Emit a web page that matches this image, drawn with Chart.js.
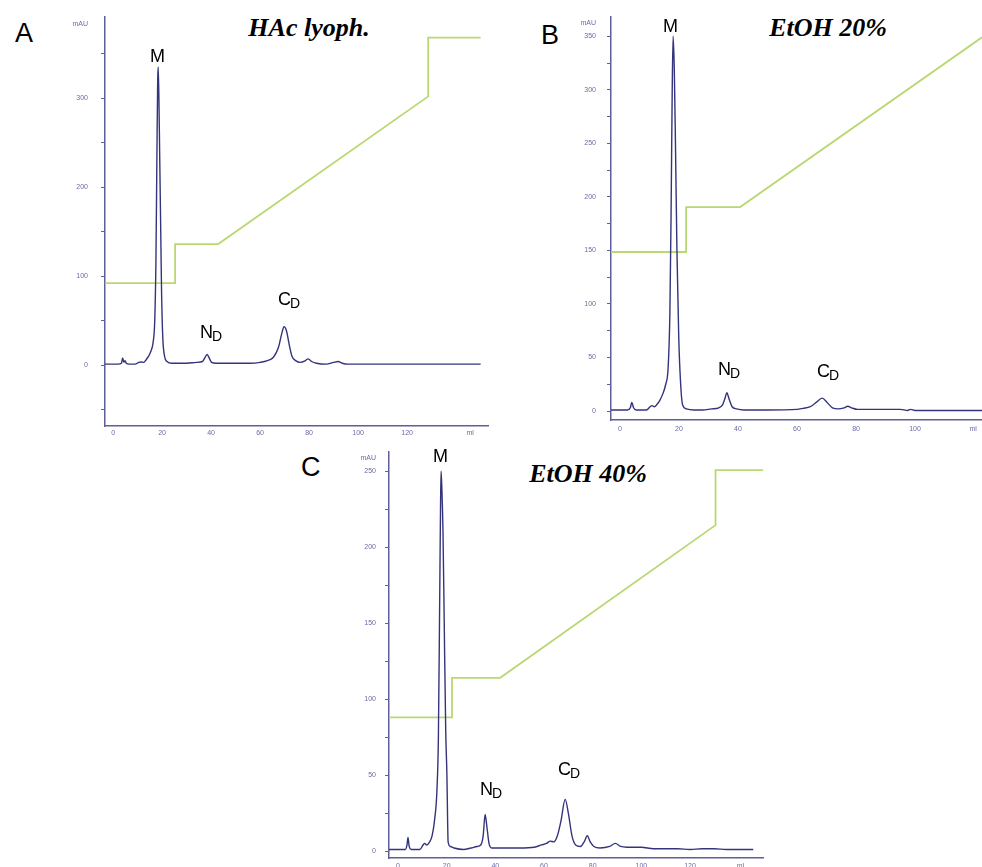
<!DOCTYPE html>
<html>
<head>
<meta charset="utf-8">
<script src="https://cdn.jsdelivr.net/npm/chart.js@4.4.0/dist/chart.umd.min.js"></script>
<style>
  body { margin: 0; background: #fff; width: 982px; height: 867px; position: relative; overflow: hidden; font-family: "Liberation Sans", Arial, sans-serif; }
  canvas { position: absolute; }
  .letter { position: absolute; font-size: 27px; line-height: 27px; color: #000; }
  .title { position: absolute; font-family: "Liberation Serif", serif; font-weight: bold; font-style: italic; font-size: 26px; line-height: 26px; white-space: nowrap; transform: translateX(-50%); }
</style>
</head>
<body>
<div class="letter" style="left:15px;top:20px">A</div>
<div class="letter" style="left:541px;top:22px">B</div>
<div class="letter" style="left:301px;top:454px">C</div>
<div class="title" style="left:309px;top:15px">HAc lyoph.</div>
<div class="title" style="left:828px;top:15px">EtOH 20%</div>
<div class="title" style="left:588px;top:461px">EtOH 40%</div>

<canvas id="grafico-a" width="440" height="448" style="left:60px;top:0px"></canvas>
<canvas id="grafico-b" width="422" height="440" style="left:560px;top:0px"></canvas>
<canvas id="grafico-c" width="430" height="437" style="left:340px;top:439px"></canvas>

<script>
// --- A: HAc lyoph. ---
const mlA = [-3.3, 2, 3.4, 3.9, 4.4, 4.9, 5.4, 6.5, 9, 10.5, 11.5, 12.5, 13.5, 14.5, 15.5, 16.3, 17, 17.5, 17.9, 18.2,
  18.4, 18.7, 19, 19.4, 19.8, 20.3, 21, 22, 24, 30, 34, 36.5, 37.6, 38.4, 39.2, 40.2, 42, 50, 56, 60,
  63, 65.5, 67.5, 68.8, 69.8, 70.8, 71.8, 73, 74.5, 76.5, 78.5, 79.6, 81, 83, 87, 90, 91.8, 93.5, 96, 110,
  130, 150];
const mauA = [1, 1, 2, 8, 3, 5, 2, 1, 1, 3, 3.5, 3, 6, 10, 16, 25, 50, 120, 240, 320,
  335, 300, 240, 160, 80, 30, 10, 4, 2, 2, 3, 4, 9, 12, 8, 3, 2, 2, 2, 3,
  5, 9, 20, 35, 43, 38, 24, 10, 5, 3, 5, 7, 4, 2, 1, 3, 4, 2, 1, 1,
  1, 1];
const gradMlA = [-3.3, 25.3, 25.3, 42.9, 128.6, 128.6, 150];
const gradA = [92, 92, 136, 136, 302, 368, 368];
const xTicksA = [0, 20, 40, 60, 80, 100, 120, 145.7];
const yTicksA = [-50, 0, 50, 100, 150, 200, 250, 300, 350, 383];
const peakTextA = ['M', 'N', 'C'];
const peakSubA = ['', 'D', 'D'];
const peakMlA = [15.1, 35.5, 67.3];
const peakMauA = [341, 30, 67];

// --- B: EtOH 20% ---
const mlB = [-3, 2.5, 3.5, 4, 4.6, 5.5, 9, 10.2, 10.9, 11.6, 12.5, 13.5, 14.5, 15.5, 16.3, 16.9, 17.3, 17.7, 18, 18.4,
  18.8, 19.3, 19.9, 20.5, 21.2, 22.5, 25, 28, 31, 33.5, 34.8, 35.6, 36.2, 37, 38, 39.5, 42, 50, 60, 62,
  64.5, 66.5, 68.5, 70.2, 72, 74, 76, 77.2, 78.5, 80.5, 85, 90, 95, 97.5, 98.5, 100, 110, 122.7];
const mauB = [1, 1, 3, 8, 3, 1, 1, 4, 5, 4, 6, 10, 16, 25, 40, 90, 180, 300, 350, 320,
  250, 150, 70, 28, 6, 2, 1, 1, 2, 3, 6, 12, 17, 11, 4, 2, 1, 1, 1.5, 2.5,
  4, 8, 12, 8, 3, 2, 3, 4.5, 3, 1.5, 1.5, 1.5, 1.5, 0.5, 1.5, 0.5, 0.5, 0.5];
const gradMlB = [-3.05, 22.4, 22.4, 40.7, 122.7];
const gradB = [148.5, 148.5, 190.5, 190.5, 349];
const xTicksB = [0, 20, 40, 60, 80, 100, 119.7];
const yTicksB = [0, 25, 50, 75, 100, 125, 150, 175, 200, 225, 250, 275, 300, 325, 350, 362];
const peakTextB = ['M', 'N', 'C'];
const peakSubB = ['', 'D', 'D'];
const peakMlB = [14.6, 33.2, 66.8];
const peakMauB = [354, 33.6, 32];

// --- C: EtOH 40% ---
const mlC = [-3.7, 3, 3.7, 4.1, 4.6, 5.5, 9, 10.3, 11, 11.8, 13, 14, 15, 16, 16.6, 17.1, 17.5, 17.7, 18, 18.5,
  19, 19.6, 20.1, 20.6, 21.5, 23, 27, 30, 32.5, 34, 35, 35.8, 36.6, 37.4, 38.5, 40, 50, 56, 59, 61,
  62.6, 64, 65.5, 67, 68.7, 70, 71.5, 73, 75, 76.5, 77.8, 79, 80.5, 83, 87, 89.3, 91.5, 94, 100, 105,
  115, 120, 125, 130, 135, 146];
const mauC = [1, 1, 4, 9, 3, 1, 1, 4, 5, 4, 6, 10, 20, 40, 75, 160, 230, 250, 240, 209,
  150, 80, 50, 6, 3, 2, 1, 2, 3, 4, 10, 24, 15, 5, 2, 2, 2, 2.5, 4, 5,
  6.5, 6, 10, 20, 34, 25, 10, 4, 3, 6, 10, 6, 3, 2, 3, 5, 3, 2.5, 2.5, 1.5,
  1.5, 1, 1.5, 1.5, 1, 1];
const gradMlC = [-3.7, 22.2, 22.2, 42, 130.5, 130.5, 150];
const gradC = [88, 88, 114, 114, 214.5, 250.7, 250.7];
const xTicksC = [0, 20, 40, 60, 80, 100, 120, 140.7];
const yTicksC = [0, 25, 50, 75, 100, 125, 150, 175, 200, 225, 250, 258.5];
const peakTextC = ['M', 'N', 'C'];
const peakSubC = ['', 'D', 'D'];
const peakMlC = [14.4, 33.7, 65.8];
const peakMauC = [256, 37, 50];

const corEixo = '#5e5e98';
const corTexto = '#6a6aa6';
const corCroma = '#34347c';
const corGradiente = '#b9d872';

// rótulos dos picos (M, ND, CD) em coordenadas de dados
const rotulosPicos = {
  id: 'rotulosPicos',
  afterDatasetsDraw(chart, args, opts) {
    const ctx = chart.ctx;
    const sx = chart.scales.x, sy = chart.scales.y;
    ctx.save();
    ctx.fillStyle = '#000';
    ctx.textBaseline = 'alphabetic';
    ctx.textAlign = 'left';
    opts.texto.forEach((t, i) => {
      const px = sx.getPixelForValue(opts.ml[i]);
      const py = sy.getPixelForValue(opts.mau[i]);
      ctx.font = '18px "Liberation Sans", Arial, sans-serif';
      ctx.fillText(t, px, py);
      if (opts.sub[i]) {
        const w = ctx.measureText(t).width;
        ctx.font = '14px "Liberation Sans", Arial, sans-serif';
        ctx.fillText(opts.sub[i], px + w - 1, py + 3);
      }
    });
    ctx.restore();
  }
};

function criarPainel(id, p) {
  return new Chart(document.getElementById(id), {
    type: 'line',
    data: {
      datasets: [
        {
          data: p.ml.map((x, i) => ({ x: x, y: p.mau[i] })),
          borderColor: corCroma,
          borderWidth: 1.4,
          pointRadius: 0,
          cubicInterpolationMode: 'monotone',
          order: 0
        },
        {
          data: p.gradMl.map((x, i) => ({ x: x, y: p.grad[i] })),
          borderColor: corGradiente,
          borderWidth: 1.8,
          pointRadius: 0,
          tension: 0,
          order: 1
        }
      ]
    },
    options: {
      responsive: false,
      animation: false,
      events: [],
      layout: { padding: { top: p.padTop, right: p.padRight, left: 0, bottom: 0 } },
      plugins: {
        legend: { display: false },
        tooltip: { enabled: false },
        rotulosPicos: { texto: p.peakText, sub: p.peakSub, ml: p.peakMl, mau: p.peakMau }
      },
      scales: {
        x: {
          type: 'linear',
          min: p.xMin,
          max: p.xMax,
          grid: { display: true, drawOnChartArea: false, drawTicks: false },
          border: { display: true, color: corEixo, width: 1.5 },
          ticks: {
            autoSkip: false,
            maxRotation: 0,
            padding: p.xPad,
            color: corTexto,
            font: { size: 7, family: '"Liberation Sans", Arial, sans-serif' },
            callback: v => (v === p.xTicks[p.xTicks.length - 1] ? 'ml' : String(v))
          },
          afterBuildTicks: s => { s.ticks = p.xTicks.map(v => ({ value: v })); },
          afterFit: s => { s.height = p.xAxisH; }
        },
        y: {
          min: p.yMin,
          max: p.yMax,
          grid: {
            display: true,
            drawOnChartArea: false,
            drawTicks: true,
            tickLength: 4,
            tickWidth: 1,
            tickColor: c => (c.tick && c.tick.value === p.yTicks[p.yTicks.length - 1] ? 'rgba(0,0,0,0)' : corEixo)
          },
          border: { display: true, color: corEixo, width: 1.5 },
          ticks: {
            autoSkip: false,
            padding: p.yPad,
            color: corTexto,
            font: { size: 7, family: '"Liberation Sans", Arial, sans-serif' },
            callback: v => {
              if (v === p.yTicks[p.yTicks.length - 1]) return 'mAU';
              return (v >= 0 && v % p.yLabelStep === 0) ? String(v) : '';
            }
          },
          afterBuildTicks: s => { s.ticks = p.yTicks.map(v => ({ value: v })); },
          afterFit: s => { s.width = p.yAxisW; }
        }
      }
    },
    plugins: [rotulosPicos]
  });
}

criarPainel('grafico-a', {
  ml: mlA, mau: mauA, gradMl: gradMlA, grad: gradA,
  xTicks: xTicksA, yTicks: yTicksA, yLabelStep: 100,
  peakText: peakTextA, peakSub: peakSubA, peakMl: peakMlA, peakMau: peakMauA,
  xMin: -3.3, xMax: 153, yMin: -68.5, yMax: 391,
  padTop: 17, padRight: 12, yAxisW: 45, xAxisH: 22, xPad: 3, yPad: 13
});

criarPainel('grafico-b', {
  ml: mlB, mau: mauB, gradMl: gradMlB, grad: gradB,
  xTicks: xTicksB, yTicks: yTicksB, yLabelStep: 50,
  peakText: peakTextB, peakSub: peakSubB, peakMl: peakMlB, peakMau: peakMauB,
  xMin: -3.05, xMax: 122.7, yMin: -8.4, yMax: 368,
  padTop: 17, padRight: 0, yAxisW: 51, xAxisH: 20, xPad: 5, yPad: 11
});

criarPainel('grafico-c', {
  ml: mlC, mau: mauC, gradMl: gradMlC, grad: gradC,
  xTicks: xTicksC, yTicks: yTicksC, yLabelStep: 50,
  peakText: peakTextC, peakSub: peakSubC, peakMl: peakMlC, peakMau: peakMauC,
  xMin: -3.7, xMax: 150, yMin: -4.6, yMax: 262.5,
  padTop: 13, padRight: 7, yAxisW: 49, xAxisH: 18, xPad: 4, yPad: 9
});
</script>
</body>
</html>
